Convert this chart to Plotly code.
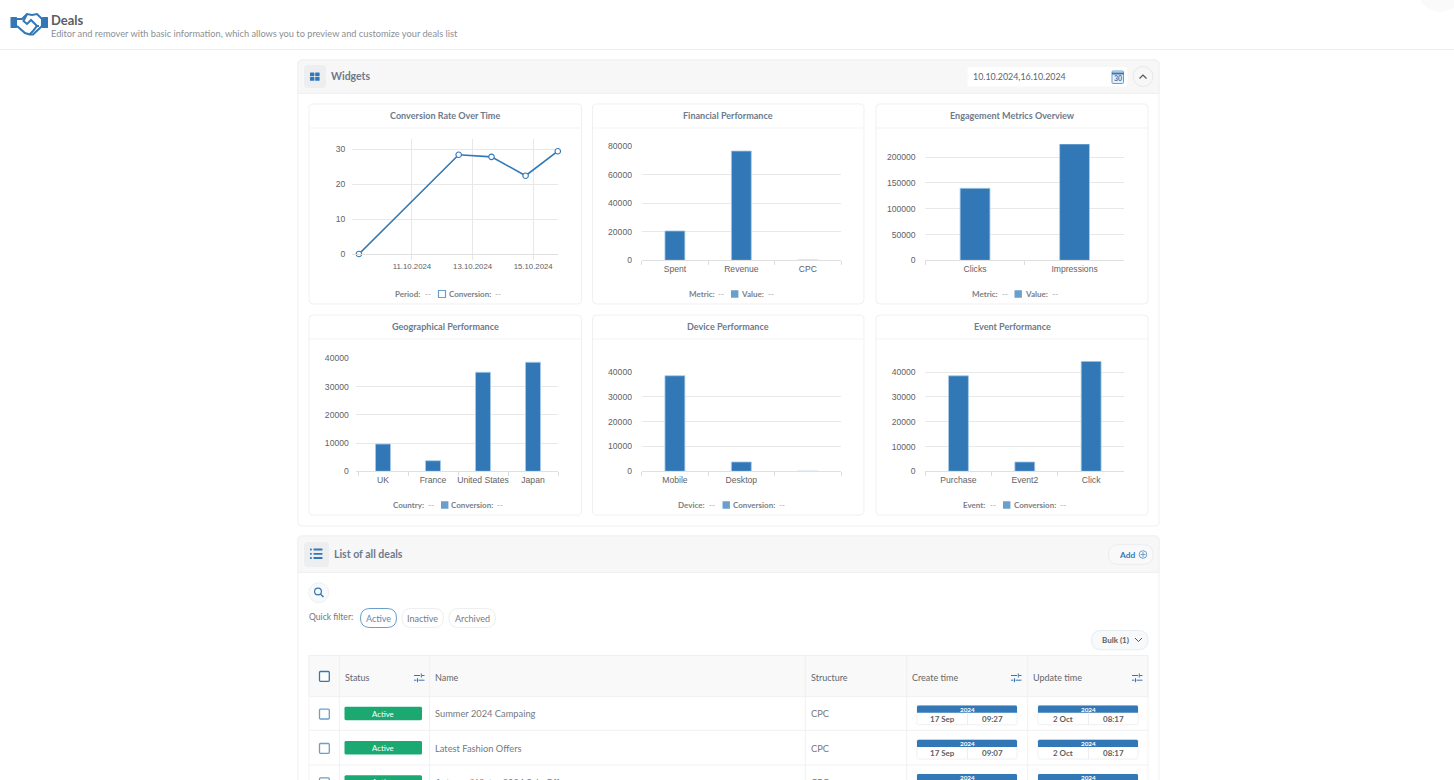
# -*- coding: utf-8 -*-
import plotly.graph_objects as go

W = 1454
H = 780

BLUE = '#3278b6'
EDGE = '#a9cbe8'
SWATCH = '#6a9fcb'
GRID = '#e8e8e8'
LINE = '#f0f0f0'
TITLE = '#6c7a8d'
TEXT = '#666a70'
TICK = '#5f6266'
UI_FONT = 'Lato'
TICK_FONT = 'Liberation Sans'

########## Chart data ########################################################
period_dates = ['2024-10-09 06:00', '2024-10-12 13:00', '2024-10-13 15:00', '2024-10-14 18:00', '2024-10-15 19:30']
conversion_rates = [0, 28.4, 27.8, 22.4, 29.4]
period_ticks = ['2024-10-11', '2024-10-13', '2024-10-15']

metric_names = ['Spent', 'Revenue', 'CPC']
metric_values = [20600, 76700, 150]

engagement_names = ['Clicks', 'Impressions']
engagement_values = [139500, 225300]

country_names = ['UK', 'France', 'United States', 'Japan']
country_values = [9650, 3750, 35050, 38600]

device_names = ['Mobile', 'Desktop', ' ']
device_values = [38500, 3770, 0]

event_names = ['Purchase', 'Event2', 'Click']
event_values = [38500, 3770, 44350]

########## Table data ########################################################
deal_names = ['Summer 2024 Campaing', 'Latest Fashion Offers', 'Autumn/Winter 2024 Sale Offer']
deal_structures = ['CPC', 'CPC', 'CPC']
create_days = ['17 Sep', '17 Sep']
create_times = ['09:27', '09:07']
update_days = ['2 Oct', '2 Oct']
update_times = ['08:17', '08:17']

shapes = []
annotations = []


def px(x):
    return x / W


def py(y):
    return 1 - y / H


def add_path(d, fill='rgba(0,0,0,0)', line='rgba(0,0,0,0)', width=1):
    shapes.append(dict(type='path', path=d, xref='paper', yref='paper', layer='below',
                       fillcolor=fill, line=dict(color=line, width=width)))


def poly(points, close=False):
    d = 'M ' + ' L '.join('%.5f,%.5f' % (px(x), py(y)) for x, y in points)
    return d + (' Z' if close else '')


def rrect(x0, y0, x1, y1, r=0, fill='rgba(0,0,0,0)', line='rgba(0,0,0,0)', width=1, top_only=False):
    b = 0 if top_only else r
    p = lambda x, y: '%.5f,%.5f' % (px(x), py(y))
    d = ('M ' + p(x0 + r, y0) + ' L ' + p(x1 - r, y0) + ' Q ' + p(x1, y0) + ' ' + p(x1, y0 + r)
         + ' L ' + p(x1, y1 - b) + ' Q ' + p(x1, y1) + ' ' + p(x1 - b, y1)
         + ' L ' + p(x0 + b, y1) + ' Q ' + p(x0, y1) + ' ' + p(x0, y1 - b)
         + ' L ' + p(x0, y0 + r) + ' Q ' + p(x0, y0) + ' ' + p(x0 + r, y0) + ' Z')
    add_path(d, fill, line, width)


def circle(cx, cy, r, fill='rgba(0,0,0,0)', line='rgba(0,0,0,0)', width=1):
    shapes.append(dict(type='circle', xref='paper', yref='paper', layer='below',
                       x0=px(cx - r), x1=px(cx + r), y0=py(cy + r), y1=py(cy - r),
                       fillcolor=fill, line=dict(color=line, width=width)))


def hline(x0, x1, y, color=LINE, width=1):
    add_path(poly([(x0, y), (x1, y)]), line=color, width=width)


def vline(x, y0, y1, color=LINE, width=1):
    add_path(poly([(x, y0), (x, y1)]), line=color, width=width)


def label(x, y, text, size=9, color=TEXT, anchor='left', bold=False, family=UI_FONT):
    # left anchored annotations land about a pixel to the right
    if anchor == 'left':
        x = x - 1
    annotations.append(dict(x=px(x), y=py(y), xref='paper', yref='paper', showarrow=False,
                            text='<b>%s</b>' % text if bold else text, xanchor=anchor, yanchor='middle',
                            borderpad=0, font=dict(family=family, size=size, color=color)))


########## Page header #######################################################
circle(1440, -10, 22, fill='#fafafa')
hline(0, W, 49.5, '#eeeeee')

# logo
rrect(10.5, 17, 17, 28, 0.5, fill=BLUE)
rrect(42, 17, 48, 28, 0.5, fill=BLUE)
add_path(poly([(17, 19), (22, 19), (27, 14), (32, 15), (37, 14), (42, 19), (42, 26), (33, 34.5), (29.5, 34.5), (25, 33), (17, 26)]),
         line=BLUE, width=2)
add_path(poly([(27, 14), (23.5, 21), (27, 24), (31, 20), (37, 26), (39, 26)]), line=BLUE, width=2)
add_path(poly([(37, 26), (33, 31), (29.5, 34.5)]), line=BLUE, width=2)
label(50.8, 20, 'Deals', 13, '#5a5d61', bold=True)
label(50.8, 33.5, 'Editor and remover with basic information, which allows you to preview and customize your deals list', 9.24, '#8b8f94')

########## Widgets panel #####################################################
rrect(298, 60, 1159, 526, 4, fill='#ffffff', line=LINE)
rrect(298, 60, 1159, 93.5, 4, fill='#f7f7f7', line=LINE, top_only=True)
rrect(304, 65, 326, 88, 4, fill='#eceef0')
for sx, sy in [(310, 72.5), (315.2, 72.5), (310, 77), (315.2, 77)]:
    rrect(sx, sy, sx + 4.4, sy + 3.8, 0.6, fill=BLUE)
label(331, 76.5, 'Widgets', 10.5, TITLE, bold=True)

# date range and collapse button
rrect(967.5, 67, 1127.5, 86.5, 2, fill='#ffffff')
label(973, 76.5, '10.10.2024,16.10.2024', 8.9, '#5c6670')
rrect(1112, 71, 1123.5, 83.5, 1, fill='#e4f0fa', line=SWATCH)
add_path(poly([(1112, 73.5), (1123.5, 73.5)]), line=BLUE, width=2)
label(1117.7, 78.5, '30', 7, BLUE, anchor='center', bold=True)
circle(1143, 76.5, 10, fill='#f7f7f7', line='#e8e8e8')
add_path(poly([(1139.5, 78.5), (1143, 75), (1146.5, 78.5)]), line='#555555', width=1.2)

########## Chart cards #######################################################
card_boxes = [(309, 104, 581.5), (592.5, 104, 864), (876, 104, 1148),
              (309, 315, 581.5), (592.5, 315, 864), (876, 315, 1148)]
card_titles = ['Conversion Rate Over Time', 'Financial Performance', 'Engagement Metrics Overview',
               'Geographical Performance', 'Device Performance', 'Event Performance']
for (x0, y0, x1), title in zip(card_boxes, card_titles):
    rrect(x0, y0, x1, y0 + 200, 4, fill='#ffffff', line='#f0f0f0')
    hline(x0, x1, y0 + 24, '#f3f3f3')
    label((x0 + x1) / 2, y0 + 11.5, title, 9.05, TITLE, anchor='center', bold=True)

# legend strips under the charts: label, swatch, label
legend_rows = [
    (294, 395, 'Period:', 425, 438.5, 'Conversion:', 448.5, 495),
    (294, 688.5, 'Metric:', 718, 731, 'Value:', 741, 768),
    (294, 971.5, 'Metric:', 1001.5, 1014.5, 'Value:', 1024.5, 1051.5),
    (505, 393, 'Country:', 428, 441, 'Conversion:', 451, 497),
    (505, 678, 'Device:', 709, 722.5, 'Conversion:', 732.5, 779),
    (505, 963, 'Event:', 990, 1003, 'Conversion:', 1013.5, 1060),
]
for i, (y, x_a, text_a, x_d, x_s, text_b, x_b, x_e) in enumerate(legend_rows):
    label(x_a, y, text_a, 8, '#7a7f86', bold=True)
    label(x_d, y, '--', 8, '#9a9ea3')
    if i == 0:
        rrect(x_s, y - 3.5, x_s + 7, y + 3.5, 0, fill='#ffffff', line=SWATCH, width=1.2)
    else:
        rrect(x_s, y - 3.7, x_s + 7.4, y + 3.7, 0, fill=SWATCH)
    label(x_b, y, text_b, 8, '#7a7f86', bold=True)
    label(x_e, y, '--', 8, '#9a9ea3')

########## List panel ########################################################
rrect(298, 536, 1159, 790, 4, fill='#ffffff', line=LINE)
rrect(298, 536, 1159, 572.5, 4, fill='#f7f7f7', line=LINE, top_only=True)
rrect(304, 542, 329, 567, 4, fill='#eceef0')
for ly in [549.5, 553.8, 558]:
    rrect(310, ly - 0.9, 311.8, ly + 0.9, 0.4, fill=BLUE)
    rrect(313.5, ly - 0.9, 322.5, ly + 0.9, 0.4, fill=BLUE)
label(334, 554, 'List of all deals', 10.5, TITLE, bold=True)

rrect(1108.5, 544.7, 1153, 564.3, 9.8, fill='#f9f9f9', line='#e9edf1')
label(1119, 554.5, 'Add', 8.4, BLUE, bold=True)
circle(1143, 554.5, 3.8, line=SWATCH)
hline(1140.5, 1145.5, 554.5, SWATCH)
vline(1143, 552, 557, SWATCH)

# search button and quick filters
circle(318.8, 592.7, 10, fill='#f8f9fa', line='#eef0f2')
circle(318, 591.5, 3.4, line=BLUE, width=1.2)
add_path(poly([(320.6, 594.2), (323.5, 597)]), line=BLUE, width=1.4)
label(309, 617, 'Quick filter:', 8.6, '#71767c')
rrect(360.5, 608.5, 396.5, 627.5, 9.5, fill='#ffffff', line=SWATCH)
label(378.5, 618, 'Active', 9, '#4f8dc4', anchor='center')
rrect(402, 608.5, 443.5, 627.5, 9.5, fill='#ffffff', line='#eeeeee')
label(422.7, 618, 'Inactive', 9, '#777b80', anchor='center')
rrect(449, 608.5, 495.5, 627.5, 9.5, fill='#ffffff', line='#eeeeee')
label(472.2, 618, 'Archived', 9, '#777b80', anchor='center')

rrect(1091.5, 630.5, 1148, 649.7, 9.6, fill='#f8f9fa', line='#e9ecef')
label(1102, 640, 'Bulk (1)', 8, '#5b6066', bold=True)
add_path(poly([(1135, 638), (1138.5, 641.5), (1142, 638)]), line='#555555', width=1)

########## Table #############################################################
rrect(309, 655.5, 1148, 696.7, 0, fill='#f9f9f9', line='#f0f0f0')
for y in [730.3, 765]:
    hline(309, 1148, y, '#f0f0f0')
for x in [339.3, 429.7, 805.3, 906.7, 1027.7]:
    vline(x, 655.5, 780, '#f0f0f0')
vline(309, 655.5, 780, '#f3f3f3')
vline(1148, 655.5, 780, '#f3f3f3')

for text, x in [('Status', 344.5), ('Name', 435), ('Structure', 811), ('Create time', 912), ('Update time', 1033)]:
    label(x, 677.5, text, 9, '#63676c')
for x in [414, 1011, 1132]:
    hline(x, x + 6, 675.5, BLUE)
    hline(x + 8, x + 10.5, 675.5, BLUE)
    vline(x + 7.3, 673.5, 677.5, BLUE)
    hline(x, x + 2.5, 680.2, BLUE)
    hline(x + 4.5, x + 10.5, 680.2, BLUE)
    vline(x + 3.5, 678.2, 682.2, BLUE)

rrect(319.5, 671.5, 329.3, 681.3, 1, fill='#ffffff', line=BLUE, width=1.3)
row_tops = [696.7, 731, 765.3]
for i, top in enumerate(row_tops):
    rrect(319.5, top + 12.5, 329.3, top + 22.3, 1, fill='#ffffff', line=SWATCH, width=1.3)
    rrect(344.5, top + 10, 422, top + 23.5, 1.5, fill='#1ba871')
    label(383.2, top + 17, 'Active', 7.8, '#ffffff', anchor='center')
    label(435, top + 17, deal_names[i], 9.3, '#75797e')
    label(811, top + 17, deal_structures[i], 9.3, '#75797e')
    for x0, day_x, time_x, days, times in [(917, 942, 992, create_days, create_times),
                                           (1038, 1063, 1113, update_days, update_times)]:
        rrect(x0, top + 8.7, x0 + 100, top + 28, 1.5, fill='#ffffff', line='#f0f0f0')
        rrect(x0, top + 8.7, x0 + 100, top + 16, 1.5, fill=BLUE, top_only=True)
        label(x0 + 50, top + 12.5, '2024', 6.3, '#ffffff', anchor='center', bold=True)
        if i < len(days):
            vline(x0 + 50.5, top + 16, top + 28, '#eeeeee')
            label(day_x, top + 22.3, days[i], 8, '#5b5f64', anchor='center', bold=True)
            label(time_x, top + 22.3, times[i], 8, '#5b5f64', anchor='center', bold=True)

########## Charts ############################################################
fig = go.Figure()

# left, right, top, bottom of each plot area in page pixels, y maximum, category range, label gap
plot_boxes = [
    (352, 558, 139, 254, 32.9, None, 4),
    (641.7, 841, 146.3, 260.3, 80000, None, 7),
    (925.3, 1124.3, 144, 260.3, 225300, None, 7),
    (355.5, 558, 358.3, 471.3, 40000, (-0.55, 3.5), 4),
    (641.7, 841, 372, 471.3, 40000, None, 7),
    (925.3, 1124.3, 361.3, 471.3, 44350, None, 7),
]
bar_series = [None, (metric_names, metric_values), (engagement_names, engagement_values),
              (country_names, country_values), (device_names, device_values), (event_names, event_values)]
y_ticks = [[0, 10, 20, 30], [0, 20000, 40000, 60000, 80000], [0, 50000, 100000, 150000, 200000],
           [0, 10000, 20000, 30000, 40000], [0, 10000, 20000, 30000, 40000], [0, 10000, 20000, 30000, 40000]]

axes = {}
for i, (left, right, top, bottom, y_max, x_range, gap) in enumerate(plot_boxes):
    n = i + 1
    x_ax = 'x%d' % n
    y_ax = 'y%d' % n
    x_conf = dict(domain=[px(left), px(right)], anchor=y_ax, showline=True, linecolor='#e0e0e0', linewidth=1,
                  ticks='outside', ticklen=4, tickcolor='#dddddd', showgrid=False, zeroline=False,
                  fixedrange=True, tickangle=0, tickfont=dict(family=TICK_FONT, size=8.6, color=TICK))
    y_conf = dict(domain=[py(bottom), py(top)], anchor=x_ax, range=[0, y_max], showgrid=True, gridcolor=GRID,
                  gridwidth=1, zeroline=False, showline=False, ticks='outside', ticklen=gap,
                  tickcolor='rgba(0,0,0,0)', fixedrange=True, tickformat='d', tickmode='array', tickvals=y_ticks[i],
                  tickfont=dict(family=TICK_FONT, size=8.6, color=TICK))
    if i == 0:
        x_conf.update(type='date', range=['2024-10-09 00:30', '2024-10-15 19:40'], tickmode='array',
                      tickvals=period_ticks, tickformat='%d.%m.%Y', showgrid=True, gridcolor=GRID, ticklen=5,
                      tickcolor=GRID, tickfont=dict(family=TICK_FONT, size=7.8, color=TICK))
        fig.add_trace(go.Scatter(x=period_dates, y=conversion_rates, mode='lines+markers', xaxis=x_ax, yaxis=y_ax,
                                 cliponaxis=False, line=dict(color=BLUE, width=1.6),
                                 marker=dict(size=5.5, color='#ffffff', line=dict(color=BLUE, width=1.1))))
    else:
        names, values = bar_series[i]
        x_conf.update(type='category', categoryorder='array', categoryarray=names, tickson='boundaries')
        if x_range:
            x_conf.update(range=list(x_range), autorange=False)
        fig.add_trace(go.Bar(x=names, y=values, xaxis=x_ax, yaxis=y_ax, width=0.3,
                             marker=dict(color=BLUE, line=dict(color=EDGE, width=0.8))))
    axes['xaxis%d' % n] = x_conf
    axes['yaxis%d' % n] = y_conf

# autoexpand off: the third table row runs past the bottom edge and must not push the margins
fig.update_layout(width=W, height=H, margin=dict(l=0, r=0, t=0, b=0, pad=0, autoexpand=False), showlegend=False,
                  paper_bgcolor='#ffffff', plot_bgcolor='rgba(0,0,0,0)', shapes=shapes,
                  annotations=annotations, font=dict(family=UI_FONT), hovermode=False, **axes)

# the page has a default body margin, the picture must start in the corner
fig.write_html("out.html", config=dict(displayModeBar=False), post_script="document.body.style.margin='0';")
